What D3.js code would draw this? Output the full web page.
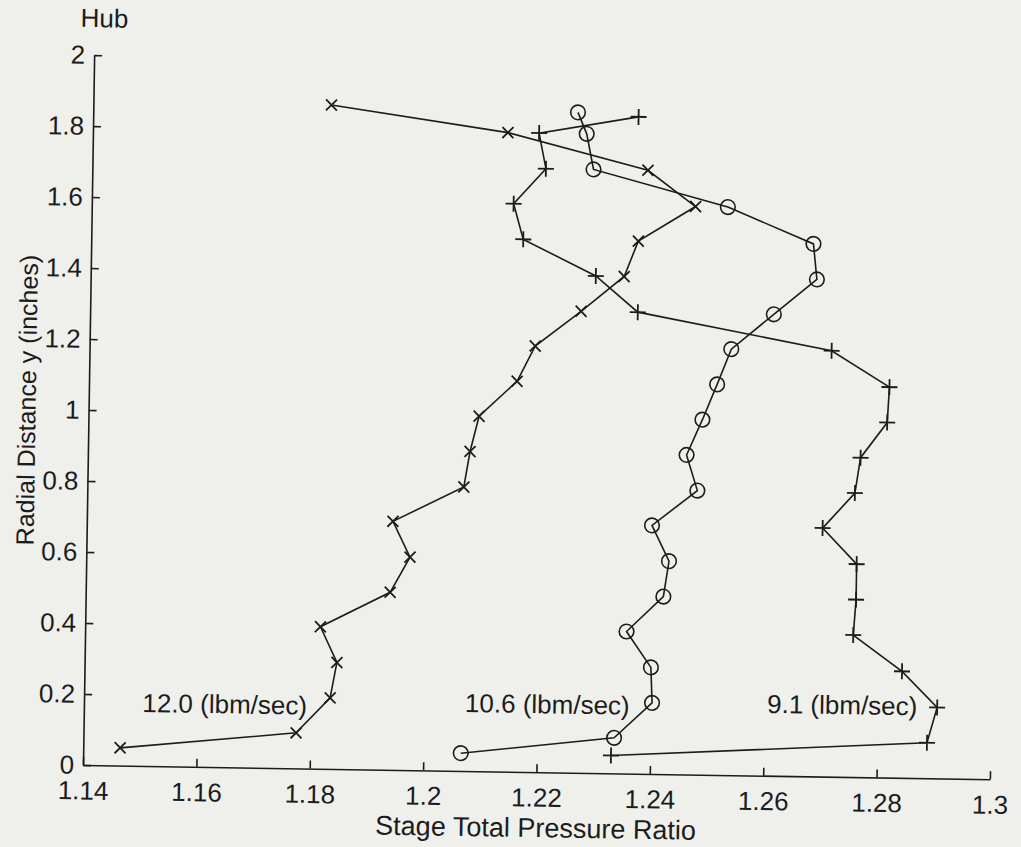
<!DOCTYPE html>
<html>
<head>
<meta charset="utf-8">
<script src="https://cdn.jsdelivr.net/npm/d3@7"></script>
<style>
  body { margin: 0; background: #efefeb; }
  svg { display: block; }
  text { font-family: "Liberation Sans", Arial, Helvetica, sans-serif; fill: #1c1c1c; }
</style>
</head>
<body>
<script>
// Radial positions (inches) of the survey stations
const yRun12 = [0.05, 0.10, 0.20, 0.30, 0.40, 0.50, 0.60, 0.70, 0.80, 0.90, 1.00, 1.10, 1.20, 1.30, 1.40, 1.50, 1.60, 1.70, 1.80, 1.87];
const yRun106 = [0.05, 0.10, 0.20, 0.30, 0.40, 0.50, 0.60, 0.70, 0.80, 0.90, 1.00, 1.10, 1.20, 1.30, 1.40, 1.50, 1.60, 1.70, 1.80, 1.86];
const yRun91 = [0.05, 0.10, 0.20, 0.30, 0.40, 0.50, 0.60, 0.70, 0.80, 0.90, 1.00, 1.10, 1.20, 1.30, 1.40, 1.50, 1.60, 1.70, 1.80, 1.85];

// Stage total pressure ratio for each mass flow
const prRun12 = [1.1465, 1.1775, 1.1834, 1.1845, 1.1815, 1.1937, 1.1971, 1.1940, 1.2064, 1.2074, 1.2089, 1.2155, 1.2186, 1.2266, 1.2341, 1.2365, 1.2465, 1.2380, 1.2132, 1.1820];
const prRun106 = [1.2066, 1.2336, 1.2402, 1.2399, 1.2355, 1.2419, 1.2428, 1.2397, 1.2476, 1.2456, 1.2483, 1.2508, 1.2532, 1.2606, 1.2681, 1.2674, 1.2522, 1.2284, 1.2271, 1.2255];
const prRun91 = [1.2331, 1.2888, 1.2905, 1.2842, 1.2755, 1.2759, 1.2759, 1.2698, 1.2754, 1.2763, 1.2809, 1.2812, 1.2709, 1.2366, 1.2291, 1.2162, 1.2144, 1.2200, 1.2187, 1.2362];

const runNames = ["12.0 (lbm/sec)", "10.6 (lbm/sec)", "9.1 (lbm/sec)"];
const runMarkers = ["times", "circle", "plus"];
// where each run's name is written, in data units
const labelPr = [1.1503, 1.2072, 1.2605];
const labelY = [0.152, 0.166, 0.177];

const xTicks = [1.14, 1.16, 1.18, 1.2, 1.22, 1.24, 1.26, 1.28, 1.3];
const xTickLabels = ["1.14", "1.16", "1.18", "1.2", "1.22", "1.24", "1.26", "1.28", "1.3"];
const yTicks = [0, 0.2, 0.4, 0.6, 0.8, 1, 1.2, 1.4, 1.6, 1.8, 2];
const yTickLabels = ["0", "0.2", "0.4", "0.6", "0.8", "1", "1.2", "1.4", "1.6", "1.8", "2"];

const runs = [
    { pr: prRun12, y: yRun12 },
    { pr: prRun106, y: yRun106 },
    { pr: prRun91, y: yRun91 }
].map((r, i) => ({
    name: runNames[i],
    marker: runMarkers[i],
    points: r.pr.map((p, j) => ({ pr: p, y: r.y[j] }))
}));

const W = 1021, H = 847;
const ink = "#1c1c1c";
const fontSize = 26;

const svg = d3.select("body").append("svg")
    .attr("width", W)
    .attr("height", H);

// la figure scannée est légèrement penchée
const g = svg.append("g").attr("transform", "rotate(0.9, 83, 765)");

const x = d3.scaleLinear().domain([1.14, 1.3]).range([83, 990]);
const y = d3.scaleLinear().domain([0, 2]).range([765, 55]);

// Axes (ticks pointing inside, no box)
const xAxis = g.append("g")
    .attr("transform", `translate(0,${y(0)})`)
    .call(d3.axisBottom(x)
        .tickValues(xTicks)
        .tickFormat((d, i) => xTickLabels[i])
        .tickSizeInner(-8)
        .tickSizeOuter(0)
        .tickPadding(16));

const yAxis = g.append("g")
    .attr("transform", `translate(${x(1.14)},0)`)
    .call(d3.axisLeft(y)
        .tickValues(yTicks)
        .tickFormat((d, i) => yTickLabels[i])
        .tickSizeInner(-8)
        .tickSizeOuter(0)
        .tickPadding(9));

[xAxis, yAxis].forEach(a => {
    a.attr("font-size", fontSize)
        .attr("font-family", "'Liberation Sans', Arial, Helvetica, sans-serif")
        .attr("color", ink);
    a.selectAll("path, line").attr("stroke-width", 1.6);
});

// Axis titles
g.append("text")
    .attr("x", (x(1.14) + x(1.3)) / 2)
    .attr("y", 830)
    .attr("text-anchor", "middle")
    .style("font-size", "27px")
    .text("Stage Total Pressure Ratio");

g.append("text")
    .attr("transform", `translate(30,${(y(0) + y(2)) / 2 - 9}) rotate(-90)`)
    .attr("text-anchor", "middle")
    .style("font-size", "25px")
    .text("Radial Distance y (inches)");

g.append("text")
    .attr("x", 69)
    .attr("y", 27)
    .style("font-size", fontSize + "px")
    .text("Hub");

// Profiles
const line = d3.line().x(d => x(d.pr)).y(d => y(d.y));

const markerPath = {
    times: "M-5.5,-5.5L5.5,5.5M-5.5,5.5L5.5,-5.5",
    plus: "M-8,0L8,0M0,-8L0,8"
};

runs.forEach((run, i) => {
    const s = g.append("g").attr("class", "run");

    s.append("path")
        .datum(run.points)
        .attr("d", line)
        .attr("fill", "none")
        .attr("stroke", ink)
        .attr("stroke-width", 1.6);

    if (run.marker === "circle") {
        s.selectAll("circle")
            .data(run.points)
            .join("circle")
            .attr("cx", d => x(d.pr))
            .attr("cy", d => y(d.y))
            .attr("r", 7.3)
            .attr("fill", "none")
            .attr("stroke", ink)
            .attr("stroke-width", 1.6);
    } else {
        s.selectAll(".mk")
            .data(run.points)
            .join("path")
            .attr("class", "mk")
            .attr("transform", d => `translate(${x(d.pr)},${y(d.y)})`)
            .attr("d", markerPath[run.marker])
            .attr("stroke", ink)
            .attr("stroke-width", 1.8);
    }

    g.append("text")
        .attr("x", x(labelPr[i]))
        .attr("y", y(labelY[i]))
        .style("font-size", fontSize + "px")
        .text(run.name);
});
</script>
</body>
</html>
